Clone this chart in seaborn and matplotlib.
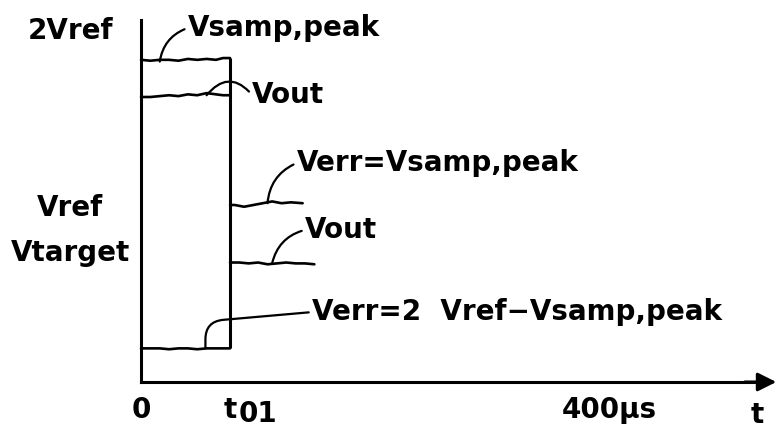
import pandas as pd
import seaborn as sns
import matplotlib.pyplot as plt

# time in microseconds, voltages in units of Vref
t01 = 76
vtarget = 0.746

t_before = [0, 8, 16, 24, 32, 40, 48, 56, 64, 70, 76]
vsamp_peak = [1.82, 1.815, 1.82, 1.82, 1.815, 1.825, 1.82, 1.825, 1.82, 1.83, 1.83]
vout_before = [1.61, 1.61, 1.615, 1.62, 1.615, 1.625, 1.62, 1.632, 1.625, 1.62, 1.62]
verr_before = [0.19, 0.19, 0.19, 0.185, 0.19, 0.19, 0.185, 0.19, 0.19, 0.19, 0.19]

t_verr_after = [76, 80, 88, 96, 104, 112, 120, 128, 138]
verr_after = [1.0, 1.0, 0.99, 1.0, 1.01, 1.02, 1.01, 1.015, 1.01]
t_vout_after = [76, 84, 92, 100, 108, 116, 124, 132, 140, 148]
vout_after = [0.675, 0.675, 0.67, 0.675, 0.665, 0.67, 0.675, 0.67, 0.67, 0.665]

ytick_vals = [2.0, 1.0, vtarget]
ytick_labels = ['2Vref', 'Vref', 'Vtarget']
xtick_vals = [0, t01, 400]
xtick_labels = ['0', 't', '400µs']

sns.set_theme(style='white')
plt.rcParams['font.family'] = ['DejaVu Sans']
plt.rcParams['font.weight'] = 'bold'
plt.rcParams['text.color'] = 'black'
plt.rcParams['axes.labelcolor'] = 'black'
FS = 20

fig = plt.figure(figsize=(7.76, 4.30), dpi=100)
ax = fig.add_axes([141 / 776, 48 / 430, 629 / 776, 362 / 430])

# Curves
for tx, vy in [(t_before, vsamp_peak), (t_before, vout_before), (t_before, verr_before),
               (t_verr_after, verr_after), (t_vout_after, vout_after)]:
    df = pd.DataFrame({'t': tx, 'v': vy})
    sns.lineplot(data=df, x='t', y='v', color='black', lw=1.9, ax=ax, clip_on=False)

# step at t01
ax.vlines(t01, verr_before[-1], vsamp_peak[-1], color='black', lw=2.2)

ax.set_xlim(0, 537)
ax.set_ylim(0, 2.045)

for side in ['top', 'right']:
    ax.spines[side].set_visible(False)
for side in ['left', 'bottom']:
    ax.spines[side].set_linewidth(2.2)
    ax.spines[side].set_color('black')

ax.set_yticks(ytick_vals)
ax.set_yticklabels(ytick_labels, fontsize=FS, ha='center', fontweight='bold')
ax.set_xticks(xtick_vals)
ax.set_xticklabels(xtick_labels, fontsize=FS, fontweight='bold')
ax.tick_params(axis='y', direction='in', length=4, width=1.8, pad=51, colors='black')
ax.tick_params(axis='x', direction='in', length=4, width=1.8, pad=10, colors='black')
ax.set_ylabel('')
ax.set_xlabel('t', fontsize=FS, fontweight='bold', color='black')
ax.xaxis.set_label_coords(0.979, -0.052)

# subscript of t01
ax.annotate('01', xy=(t01, 0), xytext=(6, -13), textcoords='offset points',
            fontsize=FS, fontweight='bold', ha='left', va='top')

# arrow at the end of the time axis
ax.annotate('', xy=(1.01, 0), xytext=(0.96, 0), xycoords='axes fraction',
            arrowprops=dict(arrowstyle='-|>', mutation_scale=28, color='black', lw=2.2,
                            shrinkA=0, shrinkB=0))

# leader lines and labels
def label(text, xy, xytext, style):
    ax.annotate(text, xy=xy, xytext=xytext, fontsize=FS, fontweight='bold',
                ha='left', va='center', annotation_clip=False,
                arrowprops=dict(arrowstyle='-', color='black', lw=1.6, shrinkA=0, shrinkB=0,
                                relpos=(0, 0.5), connectionstyle=style))

label('Vsamp,peak', (16, 1.81), (40, 2.0), 'arc3,rad=0.3')
label('Vout', (56, 1.62), (95, 1.62), 'arc3,rad=0.6')
label('Verr=Vsamp,peak', (108, 1.01), (133, 1.237), 'arc3,rad=0.3')
label('Vout', (112, 0.672), (140, 0.859), 'arc3,rad=0.3')
label('Verr=2  Vref−Vsamp,peak', (55, 0.19), (146, 0.395),
      'angle,angleA=5,angleB=90,rad=18')

fig.savefig('out.png', dpi=100)
